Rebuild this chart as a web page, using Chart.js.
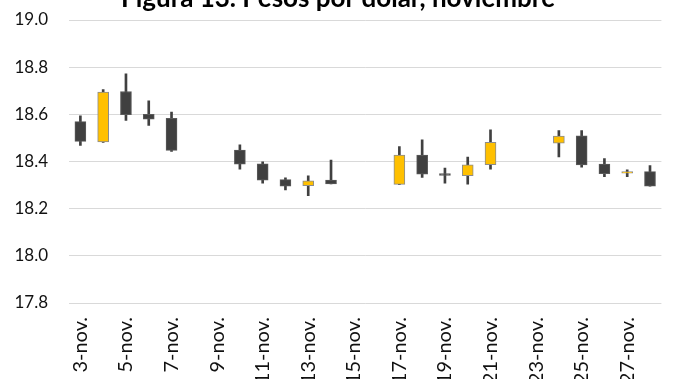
<!DOCTYPE html>
<html>
<head>
<meta charset="utf-8">
<script src="https://cdn.jsdelivr.net/npm/chart.js@4"></script>
<style>
  html, body { margin: 0; padding: 0; background: #fff; }
  #wrap { width: 688px; height: 379px; }
</style>
</head>
<body>
<div id="wrap"><canvas id="c" width="688" height="379"></canvas></div>
<script>
// Peso per US dollar, daily OHLC, November
const days = ['3-nov.', '4-nov.', '5-nov.', '6-nov.', '7-nov.', '8-nov.', '9-nov.',
  '10-nov.', '11-nov.', '12-nov.', '13-nov.', '14-nov.', '15-nov.', '16-nov.',
  '17-nov.', '18-nov.', '19-nov.', '20-nov.', '21-nov.', '22-nov.', '23-nov.',
  '24-nov.', '25-nov.', '26-nov.', '27-nov.', '28-nov.'];

const openPx = [18.569, 18.483, 18.697, 18.600, 18.583, null, null,
  18.448, 18.390, 18.323, 18.297, 18.321, null, null,
  18.303, 18.427, 18.349, 18.340, 18.387, null, null,
  18.478, 18.509, 18.389, 18.351, 18.357];

const highPx = [18.594, 18.705, 18.772, 18.657, 18.610, null, null,
  18.471, 18.399, 18.331, 18.339, 18.406, null, null,
  18.463, 18.492, 18.372, 18.419, 18.534, null, null,
  18.531, 18.531, 18.412, 18.365, 18.383];

const lowPx = [18.468, 18.481, 18.574, 18.553, 18.443, null, null,
  18.368, 18.308, 18.280, 18.255, 18.305, null, null,
  18.302, 18.332, 18.308, 18.304, 18.368, null, null,
  18.419, 18.376, 18.336, 18.336, 18.295];

const closePx = [18.485, 18.694, 18.599, 18.579, 18.447, null, null,
  18.389, 18.321, 18.295, 18.318, 18.305, null, null,
  18.427, 18.346, 18.341, 18.386, 18.481, null, null,
  18.508, 18.385, 18.348, 18.357, 18.295];

const yTicks = [17.8, 18.0, 18.2, 18.4, 18.6, 18.8, 19.0];

const UP = '#FFC000', DOWN = '#404040';
const isUp = i => closePx[i] >= openPx[i];

const wicks = days.map((_, i) => highPx[i] == null ? null : [lowPx[i], highPx[i]]);
const bodies = days.map((_, i) => openPx[i] == null ? null : [openPx[i], closePx[i]]);

const FONT = 'Lato, "Open Sans", sans-serif';

// Heading, partly above the top edge of the canvas
const titlePlugin = {
  id: 'heading',
  afterDraw(chart) {
    const ctx = chart.ctx;
    ctx.save();
    ctx.font = 'bold 26px ' + FONT;
    ctx.fillStyle = '#000';
    ctx.textAlign = 'center';
    ctx.textBaseline = 'alphabetic';
    ctx.fillText('Figura 13. Pesos por dólar, noviembre', chart.width / 2 - 6, 7);
    ctx.restore();
  }
};

new Chart(document.getElementById('c'), {
  type: 'bar',
  data: {
    labels: days,
    datasets: [
      {
        label: 'Cuerpo',
        data: bodies,
        order: 0,
        grouped: false,
        barThickness: 11,
        borderSkipped: false,
        borderWidth: 1,
        backgroundColor: ctx => isUp(ctx.dataIndex) ? UP : DOWN,
        borderColor: ctx => isUp(ctx.dataIndex) ? '#8c8c8c' : '#5a5a5a'
      },
      {
        label: 'Rango',
        data: wicks,
        order: 1,
        grouped: false,
        barThickness: 2,
        borderWidth: 0,
        backgroundColor: '#404040'
      }
    ]
  },
  options: {
    responsive: false,
    animation: false,
    devicePixelRatio: 1,
    layout: { padding: { top: 20, right: 0, left: 0, bottom: 0 } },
    plugins: {
      legend: { display: false },
      tooltip: { enabled: false },
      title: { display: false }
    },
    scales: {
      x: {
        offset: true,
        grid: { display: false, drawTicks: false },
        border: { display: false },
        ticks: {
          autoSkip: false,
          minRotation: 90,
          maxRotation: 90,
          padding: 14,
          color: '#111',
          font: { family: FONT, size: 20 },
          callback: (v, i) => i % 2 === 0 ? days[i] : ''
        },
        afterFit: axis => { axis.height = 76; }
      },
      y: {
        min: yTicks[0],
        max: yTicks[yTicks.length - 1],
        afterBuildTicks: axis => { axis.ticks = yTicks.map(v => ({ value: v })); },
        grid: { color: '#d9d9d9', lineWidth: 1, drawTicks: false },
        border: { display: false },
        ticks: {
          padding: 21,
          color: '#111',
          font: { family: FONT, size: 17 },
          callback: v => Number(v).toFixed(1)
        },
        afterFit: axis => {
          axis.width = 69;
          axis.paddingTop = 0;
          axis.paddingBottom = 0;
        }
      }
    }
  },
  plugins: [titlePlugin]
});
</script>
</body>
</html>
